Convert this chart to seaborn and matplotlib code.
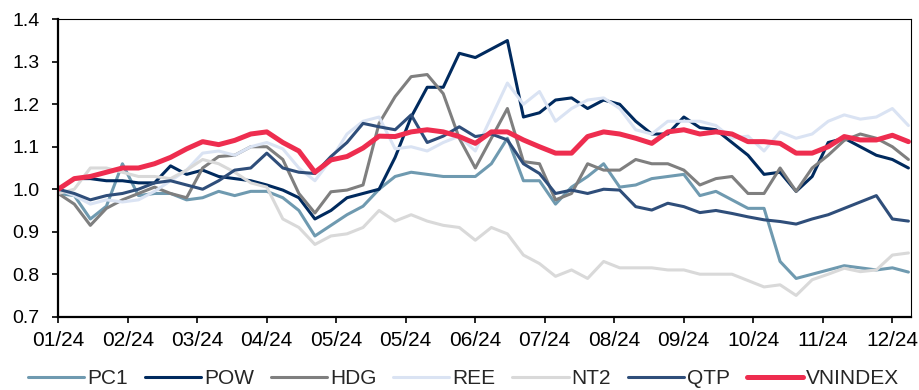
import numpy as np
import pandas as pd
import matplotlib
matplotlib.use("Agg")
import matplotlib.pyplot as plt
import matplotlib.dates as mdates
from matplotlib.ticker import FixedLocator, FormatStrFormatter
import seaborn as sns

# Relative performance (rebased to 1.0 on the first trading day), weekly observations
dates = pd.date_range("2024-01-02", "2025-01-03", periods=54)

pc1 = [0.99, 0.985, 0.93, 0.96, 1.06, 0.985, 0.99, 0.99, 0.975, 0.98,
       0.995, 0.985, 0.995, 0.995, 0.98, 0.95, 0.89, 0.915, 0.94, 0.96,
       1.0, 1.03, 1.04, 1.035, 1.03, 1.03, 1.03, 1.06, 1.12, 1.02,
       1.02, 0.965, 1.005, 1.03, 1.06, 1.005, 1.01, 1.025, 1.03, 1.035,
       0.985, 0.995, 0.975, 0.955, 0.955, 0.83, 0.79, 0.80, 0.81, 0.82,
       0.815, 0.81, 0.815, 0.805]
pow_ = [1.0, 1.025, 1.025, 1.02, 1.02, 1.015, 1.015, 1.055, 1.035, 1.045,
        1.03, 1.025, 1.02, 1.01, 0.998, 0.98, 0.93, 0.95, 0.98, 0.99,
        1.0, 1.075, 1.17, 1.24, 1.24, 1.32, 1.31, 1.33, 1.35, 1.17,
        1.18, 1.21, 1.215, 1.19, 1.21, 1.20, 1.16, 1.13, 1.13, 1.17,
        1.145, 1.14, 1.11, 1.08, 1.035, 1.04, 0.995, 1.03, 1.11, 1.12,
        1.10, 1.08, 1.07, 1.05]
hdg = [0.99, 0.965, 0.915, 0.955, 0.975, 0.99, 1.005, 0.99, 0.98, 1.05,
       1.077, 1.08, 1.10, 1.10, 1.07, 0.99, 0.944, 0.994, 0.998, 1.01,
       1.155, 1.218, 1.265, 1.27, 1.225, 1.12, 1.05, 1.12, 1.19, 1.065,
       1.06, 0.975, 0.99, 1.06, 1.045, 1.045, 1.07, 1.06, 1.06, 1.045,
       1.01, 1.025, 1.03, 0.99, 0.99, 1.05, 0.995, 1.05, 1.08, 1.115,
       1.13, 1.12, 1.10, 1.07]
ree = [1.0, 0.985, 0.965, 0.975, 0.97, 0.975, 0.995, 1.02, 1.045, 1.085,
       1.09, 1.08, 1.10, 1.11, 1.095, 1.05, 1.02, 1.07, 1.13, 1.16,
       1.17, 1.095, 1.10, 1.09, 1.11, 1.125, 1.09, 1.17, 1.25, 1.20,
       1.23, 1.16, 1.19, 1.21, 1.215, 1.19, 1.14, 1.13, 1.16, 1.16,
       1.16, 1.15, 1.12, 1.125, 1.09, 1.135, 1.12, 1.13, 1.16, 1.175,
       1.165, 1.17, 1.19, 1.15]
nt2 = [0.99, 1.0, 1.05, 1.05, 1.04, 1.03, 1.03, 1.025, 1.045, 1.07,
       1.06, 1.04, 1.015, 1.005, 0.93, 0.91, 0.87, 0.89, 0.895, 0.91,
       0.95, 0.925, 0.94, 0.925, 0.915, 0.91, 0.88, 0.91, 0.895, 0.845,
       0.825, 0.795, 0.81, 0.79, 0.83, 0.815, 0.815, 0.815, 0.81, 0.81,
       0.80, 0.80, 0.80, 0.785, 0.77, 0.775, 0.75, 0.787, 0.80, 0.814,
       0.806, 0.81, 0.845, 0.85]
qtp = [1.0, 0.99, 0.975, 0.985, 0.99, 1.0, 1.015, 1.02, 1.01, 1.0,
       1.02, 1.045, 1.05, 1.085, 1.05, 1.04, 1.037, 1.077, 1.11, 1.155,
       1.147, 1.14, 1.175, 1.11, 1.125, 1.147, 1.124, 1.13, 1.116, 1.06,
       1.037, 0.99, 0.998, 0.99, 1.0, 0.998, 0.959, 0.951, 0.967, 0.959,
       0.945, 0.95, 0.943, 0.935, 0.928, 0.924, 0.918, 0.93, 0.94, 0.955,
       0.97, 0.985, 0.93, 0.925]
vnindex = [1.0, 1.025, 1.03, 1.04, 1.05, 1.05, 1.06, 1.075, 1.095, 1.112,
           1.105, 1.115, 1.13, 1.135, 1.11, 1.09, 1.04, 1.069, 1.077, 1.097,
           1.125, 1.124, 1.135, 1.14, 1.135, 1.124, 1.108, 1.135, 1.135, 1.116,
           1.10, 1.085, 1.085, 1.124, 1.135, 1.13, 1.12, 1.108, 1.135, 1.14,
           1.13, 1.135, 1.13, 1.112, 1.112, 1.108, 1.085, 1.085, 1.10, 1.124,
           1.116, 1.116, 1.127, 1.112]

names = ["PC1", "POW", "HDG", "REE", "NT2", "QTP", "VNINDEX"]
series = [pc1, pow_, hdg, ree, nt2, qtp, vnindex]
colors = ["#6F9AB0", "#002A5E", "#7F7F7F", "#DAE3F3", "#D9D9D9", "#2F4E7A", "#EE2D4F"]
widths = [2.2, 2.2, 2.2, 2.2, 2.2, 2.2, 3.6]

y_ticks = [0.7, 0.8, 0.9, 1.0, 1.1, 1.2, 1.3, 1.4]

sns.set_style("white")
plt.rcParams["font.family"] = ["Liberation Sans", "DejaVu Sans"]

df = pd.concat(
    [pd.DataFrame({"date": dates, "value": vals, "ticker": name})
     for name, vals in zip(names, series)],
    ignore_index=True,
)

fig = plt.figure(figsize=(9.19, 3.90), dpi=100)
ax = fig.add_axes([0.0634, 0.188, 0.9276, 0.7625])

for name, col, lw in zip(names, colors, widths):
    sub = df[df["ticker"] == name]
    sns.lineplot(data=sub, x="date", y="value", ax=ax, color=col,
                 linewidth=lw, label=name, legend=False)

# axis ranges and ticks
ax.set_xlim(pd.Timestamp("2024-01-02"), pd.Timestamp("2025-01-04"))
ax.set_ylim(0.7, 1.4)
tick_dates = pd.date_range("2024-01-02", periods=13, freq="30D")
ax.xaxis.set_major_locator(FixedLocator(mdates.date2num(tick_dates)))
ax.xaxis.set_major_formatter(mdates.DateFormatter("%m/%y"))
ax.yaxis.set_major_locator(FixedLocator(y_ticks))
ax.yaxis.set_major_formatter(FormatStrFormatter("%.1f"))
ax.set_xlabel("")
ax.set_ylabel("")

ax.tick_params(axis="x", direction="out", length=4.5, width=1.2,
               labelsize=15, pad=6, colors="black", bottom=True)
ax.tick_params(axis="y", direction="out", length=4.5, width=1.2,
               labelsize=14, pad=9, colors="black", left=True)

for side in ["left", "bottom"]:
    ax.spines[side].set_linewidth(1.6)
    ax.spines[side].set_color("black")
for side in ["top", "right"]:
    ax.spines[side].set_linewidth(0.8)
    ax.spines[side].set_color("black")
ax.grid(False)

handles, labels = ax.get_legend_handles_labels()
fig.legend(handles, labels, ncol=7, loc="center left",
           bbox_to_anchor=(28 / 919, 11 / 390), frameon=False,
           fontsize=15, handlelength=2.7, handletextpad=0.15,
           columnspacing=0.8, borderpad=0, borderaxespad=0)

fig.savefig("out.png", dpi=100)
